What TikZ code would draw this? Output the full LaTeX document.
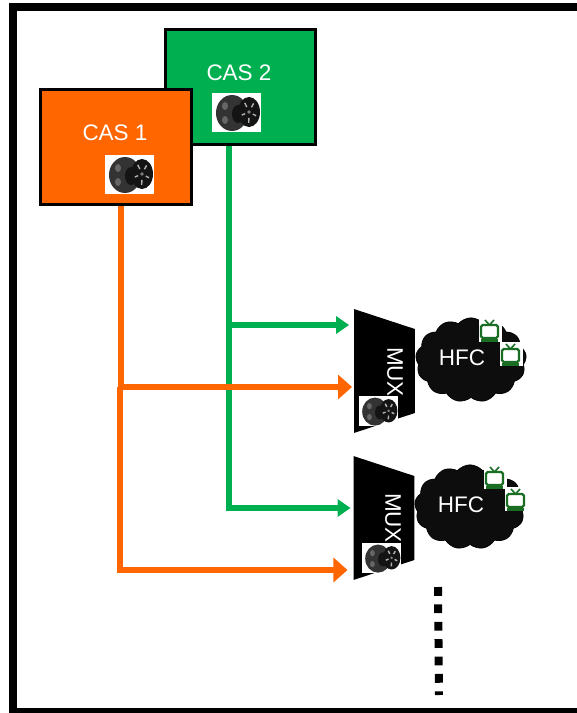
\documentclass[tikz,border=0pt]{standalone}
\usepackage{fontspec}
\setmainfont{Liberation Sans}
\usetikzlibrary{arrows.meta,shapes.geometric,shapes.symbols}
\definecolor{casorange}{RGB}{255,102,0}
\definecolor{casgreen}{RGB}{0,176,80}
\definecolor{tvgreen}{RGB}{25,110,35}
\tikzset{
    casbox/.style={draw=black,line width=1.7pt,minimum width=85.4pt,minimum height=66pt,inner sep=0pt},
    caption/.style={text=white,font=\fontsize{12.8}{14}\selectfont,inner sep=0pt},
    muxbox/.style={trapezium,fill=black,trapezium angle=76.6,shape border rotate=270,trapezium stretches=true,minimum width=70.5pt,minimum height=34.7pt,inner sep=0pt,outer sep=0pt},
    hfccloud/.style={cloud,cloud puffs=13,cloud puff arc=100,fill=black!95,draw=black,minimum width=63pt,minimum height=48pt,inner sep=0pt},
    greenline/.style={draw=casgreen,line width=2.9pt},
    orangeline/.style={draw=casorange,line width=3.7pt},
    greentip/.style={-{Triangle[length=7.4pt,width=9.7pt]}},
    orangetip/.style={-{Triangle[length=8pt,width=13.6pt]}},
    wheel/.pic={
        \fill[white] (0,0) rectangle (49,39);
        \fill[black!80] (20,20) ellipse (16 and 18);
        \fill[black!60] (13,13) ellipse (3 and 4);
        \fill[black!60] (13,27) ellipse (3 and 4);
        \fill[black!92] (26,21) ellipse (6 and 9);
        \fill[black!92] (37,19) ellipse (11 and 15);
        \foreach \a in {0,72,...,288}
            \draw[black!30,line width=0.8pt] (37,19) ++(\a+20:4 and 6) -- ++(\a+20:3.5 and 5);
        \fill[black!50] (37,19) circle (1.8);
    },
    tvset/.pic={
        \fill[white] (0,0) rectangle (23,24);
        \draw[tvgreen,line width=1.3pt,rounded corners=1pt] (2,7) rectangle (19,20);
        \draw[tvgreen,line width=0.9pt] (10.5,7) -- (6,2) (10.5,7) -- (15,2);
        \draw[tvgreen,line width=1.2pt] (2,22.5) -- (19,22.5);
    }
}
\begin{document}
\begin{tikzpicture}[x=0.02cm,y=-0.02cm]
    \useasboundingbox (0,0) rectangle (577,713);
    \clip (0,0) rectangle (577,713);
    \draw [black,line width=4.55pt] (577,7) -- (13,7) -- (13,712) -- (577,712);

    % head ends
    \node [casbox,fill=casgreen] (cas2) at (240.5,87) {};
    \node [casbox,fill=casorange] (cas1) at (116,147) {};
    \node [caption] (cas2label) at (239,73) {CAS 2};
    \node [caption] (cas1label) at (115,133) {CAS 1};
    \pic at (212,93) {wheel};
    \pic at (105,155) {wheel};

    % first branch
    \node [muxbox] (mux1) at (384.5,371) {\rule{1pt}{1pt}};
    \node [hfccloud] (cloud1) at (471,360) {};
    \node [caption,rotate=-90] (mux1label) at (395,372) {MUX};
    \node [caption] (hfc1) at (462,358) {HFC};
    \pic [xscale=0.8,yscale=0.78] at (359,396) {wheel};
    \pic at (479,318) {tvset};
    \pic at (500,342) {tvset};

    % second branch
    \node [muxbox] (mux2) at (384,518) {\rule{1pt}{1pt}};
    \node [hfccloud] (cloud2) at (470,507) {};
    \node [caption,rotate=-90] (mux2label) at (393,518) {MUX};
    \node [caption] (hfc2) at (461,505) {HFC};
    \pic [xscale=0.8,yscale=0.78] at (362,543) {wheel};
    \pic at (484,465) {tvset};
    \pic at (505,487) {tvset};

    % green feed
    \coordinate (gtop) at (229,325);
    \coordinate (gbot) at (229,508);
    \draw [greenline,greentip,shorten >=2.8pt] (gtop) -- (gtop -| mux1.west);
    \draw [greenline,greentip,shorten >=1.7pt] (cas2.south -| gbot) -- (gbot) -- (gbot -| mux2.west);

    % orange feed
    \coordinate (otop) at (121,387);
    \coordinate (obot) at (120,570);
    \draw [orangeline] (cas1.south -| otop) -- (otop);
    \draw [orangeline,orangetip,shorten >=1.1pt] (obot |- otop) -- (otop -| mux1.west);
    \draw [orangeline,orangetip,shorten >=3.4pt] (otop -| obot) -- (obot) -- (obot -| mux2.west);

    % more branches follow
    \coordinate (dotstop) at (438,587);
    \coordinate (dotsend) at (439,695);
    \draw [black,line width=4.55pt,dash pattern=on 5pt off 4.9pt] (dotstop) -- (dotsend);
\end{tikzpicture}
\end{document}
